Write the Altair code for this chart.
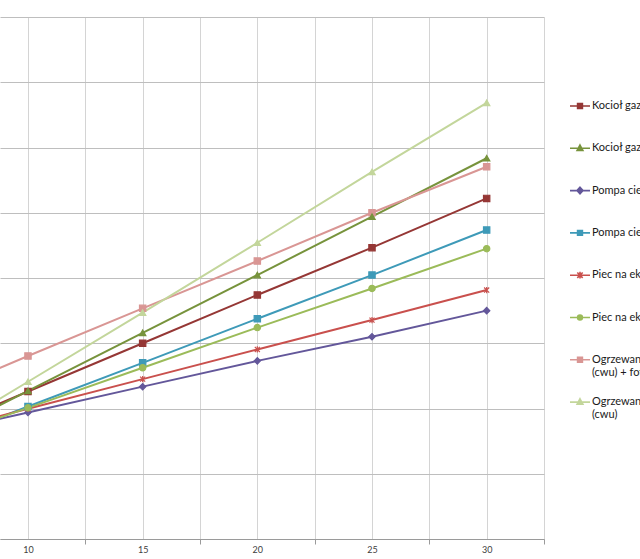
import altair as alt
import pandas as pd

# ---- data ----
x_values = [5, 10, 15, 20, 25, 30]

series_names = [
    "Kocioł gazowy kondensacyjny",
    "Kocioł gazowy tradycyjny",
    "Pompa ciepła powietrzna",
    "Pompa ciepła gruntowa",
    "Piec na ekogroszek zasypowy",
    "Piec na ekogroszek z podajnikiem",
    "Ogrzewanie elektryczne + pompa ciepła (cwu) + fotowoltaika",
    "Ogrzewanie elektryczne + pompa ciepła (cwu)",
]

kociol_1 = [30.3, 45.2, 60.0, 74.8, 89.3, 104.4]
kociol_2 = [27.6, 45.4, 63.2, 80.9, 98.8, 116.7]
pompa_1 = [30.9, 38.8, 46.7, 54.6, 62.0, 70.0]
pompa_2 = [27.1, 40.6, 54.0, 67.5, 80.9, 94.7]
piec_1 = [30.8, 39.9, 49.0, 58.1, 67.1, 76.3]
piec_2 = [28.0, 40.2, 52.5, 64.8, 76.8, 89.0]
ogrz_1 = [41.1, 56.1, 70.7, 85.2, 100.0, 114.1]
ogrz_2 = [27.1, 48.2, 69.4, 90.8, 112.5, 133.7]

all_series = [kociol_1, kociol_2, pompa_1, pompa_2, piec_1, piec_2, ogrz_1, ogrz_2]

x_tick_values = [10, 12.5, 15, 17.5, 20, 22.5, 25, 27.5, 30, 32.5]
y_grid_values = [0, 20, 40, 60, 80, 100, 120, 140, 160]

colors = ["#953735", "#77933C", "#63579A", "#3E9AB8", "#C9504D", "#9BBB59", "#D99694", "#C3D69B"]

# marker type of each series (index into series_names)
marker_groups = {
    "square": [0, 3, 6],
    "triangle-up": [1, 7],
    "diamond": [2],
    "M-0.8,-0.8L0.8,0.8M-0.8,0.8L0.8,-0.8M0,-1V1": [4],
    "circle": [5],
}

# legend symbols: line + marker, drawn with strokes only
SQ = "M-1,0H1M-0.24,-0.24H0.24V0.24H-0.24ZM-0.24,-0.08H0.24M-0.24,0.08H0.24"
TR = "M-1,0H1M0,-0.33L0.29,0.22H-0.29ZM0,-0.12L0.12,0.1H-0.12Z"
DI = "M-1,0H1M0,-0.33L0.3,0L0,0.33L-0.3,0ZM0,-0.13L0.13,0L0,0.13L-0.13,0Z"
AS = "M-1,0H1M-0.27,-0.27L0.27,0.27M-0.27,0.27L0.27,-0.27M0,-0.34V0.34"
CI = "M-1,0H1M0.24,0A0.24,0.24,0,1,1,-0.24,0A0.24,0.24,0,1,1,0.24,0ZM0.1,0A0.1,0.1,0,1,1,-0.1,0A0.1,0.1,0,1,1,0.1,0Z"
legend_shapes = [SQ, TR, DI, SQ, AS, CI, SQ, TR]

rows = []
for name, vals in zip(series_names, all_series):
    for x, v in zip(x_values, vals):
        rows.append({"rok": x, "koszt": v, "seria": name})
df = pd.DataFrame(rows)

FONT = "Lato"

x_enc = alt.X(
    "rok:Q",
    scale=alt.Scale(domain=[8.78, 32.5], nice=False, zero=False),
    axis=alt.Axis(
        values=x_tick_values,
        title=None,
        grid=True,
        gridColor="#D4D4D4",
        gridWidth=1,
        domainColor="#9A9A9A",
        tickColor="#9A9A9A",
        tickSize=5,
        tickOpacity={"condition": {"test": "datum.value % 5 != 0", "value": 1}, "value": 0},
        labelExpr="datum.value % 5 == 0 ? format(datum.value, 'd') : ''",
        labelOverlap=False,
        labelFlush=False,
        labelFont=FONT,
        labelFontSize=9,
        labelColor="#404040",
        labelPadding=1,
    ),
)
y_enc = alt.Y(
    "koszt:Q",
    scale=alt.Scale(domain=[0, 160], nice=False),
    axis=alt.Axis(
        values=y_grid_values,
        labels=False,
        ticks=False,
        domain=False,
        title=None,
        grid=True,
        gridColor="#BEBEBE",
    ),
)

color_scale = alt.Scale(domain=series_names, range=colors)

# two-line labels for the long "(cwu)" entries
label_expr = (
    "indexof(datum.label, ' (cwu)') > 0 ? "
    "[substring(datum.label, 0, indexof(datum.label, ' (cwu)')), "
    "substring(datum.label, indexof(datum.label, ' (cwu)') + 1)] : datum.label"
)
leg = alt.Legend(
    title=None,
    orient="none",
    legendX=569,
    legendY=78,
    symbolSize=400,
    symbolStrokeWidth=1.6,
    labelFont=FONT,
    labelFontSize=11,
    labelColor="#1a1a1a",
    labelLimit=500,
    labelOffset=1,
    rowPadding=13.3,
    gridAlign="all",
    labelExpr=label_expr,
)

base = alt.Chart(df)

# legend-carrying layer: points at x=5 lie outside the visible domain and are clipped
legend_layer = base.transform_filter("datum.rok < 8").mark_point(
    filled=False, clip=True, size=400, strokeWidth=1.6, opacity=1
).encode(
    x=x_enc, y=y_enc,
    color=alt.Color("seria:N", scale=color_scale, legend=leg),
    shape=alt.Shape("seria:N", scale=alt.Scale(domain=series_names, range=legend_shapes), legend=leg),
)

color_enc = alt.Color("seria:N", scale=color_scale, legend=None)
layers = [legend_layer, base.mark_line(clip=True, strokeWidth=2).encode(x=x_enc, y=y_enc, color=color_enc)]

for shape, idx in marker_groups.items():
    names = [series_names[i] for i in idx]
    sub = base.transform_filter(alt.FieldOneOfPredicate(field="seria", oneOf=names))
    layers.append(
        sub.mark_point(shape=shape, filled=False, clip=True, size=40, opacity=1, strokeWidth=1.2)
        .encode(x=x_enc, y=y_enc, color=color_enc)
    )
    layers.append(
        sub.mark_point(shape=shape, filled=True, clip=True, size=40, opacity=1)
        .encode(x=x_enc, y=y_enc, color=color_enc)
    )

chart = (
    alt.layer(*layers)
    .properties(
        width=544,
        height=522,
        autosize=alt.AutoSizeParams(type="none"),
        padding={"left": 0, "top": 17, "right": 96, "bottom": 20},
        background="white",
    )
    .configure_view(stroke=None)
)

chart.save("out.html", embed_options={"renderer": "svg", "actions": False})
